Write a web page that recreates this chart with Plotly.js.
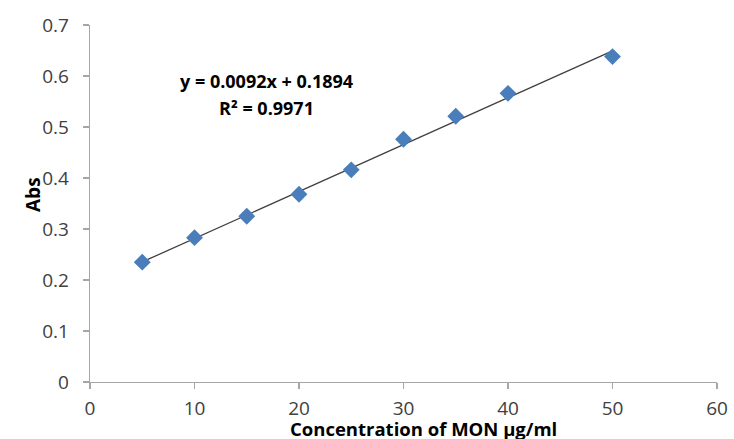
<!DOCTYPE html>
<html>
<head>
<meta charset="utf-8">
<script src="https://cdn.plot.ly/plotly-3.0.1.min.js"></script>
<style>html,body{margin:0;padding:0;background:#fff;}#chart{width:734px;height:439px;}</style>
</head>
<body>
<div id="chart"></div>
<script>
const concentration = [5, 10, 15, 20, 25, 30, 35, 40, 50];
const absorbance = [0.235, 0.283, 0.325, 0.368, 0.416, 0.476, 0.521, 0.566, 0.638];
const slope = 0.0092;
const intercept = 0.1894;
const equationText = "y = 0.0092x + 0.1894";
const r2Text = "R² = 0.9971";
const xTitle = "Concentration of MON µg/ml";
const yTitle = "Abs";
const xTicks = [0, 10, 20, 30, 40, 50, 60];
const yTicks = [0, 0.1, 0.2, 0.3, 0.4, 0.5, 0.6, 0.7];

const xFit = [concentration[0], concentration[concentration.length - 1]];
const yFit = xFit.map(x => slope * x + intercept);

const font = "Open Sans, Noto Sans, sans-serif";

const data = [
  {
    x: xFit, y: yFit, type: "scatter", mode: "lines",
    line: {color: "#404040", width: 1.3},
    hoverinfo: "skip", showlegend: false
  },
  {
    x: concentration, y: absorbance, type: "scatter", mode: "markers",
    marker: {symbol: "diamond", size: 13, color: "#4a7ebb", line: {width: 0}},
    showlegend: false
  }
];

const layout = {
  width: 734, height: 439,
  margin: {l: 90, r: 17, t: 25, b: 57},
  paper_bgcolor: "#ffffff", plot_bgcolor: "#ffffff",
  font: {family: font, color: "#404040"},
  xaxis: {
    range: [0, 60], tickvals: xTicks, ticktext: xTicks.map(String),
    showgrid: false, zeroline: false,
    showline: true, linecolor: "#a6a6a6", linewidth: 1.3,
    ticks: "outside", ticklen: 6, tickcolor: "#a6a6a6", tickwidth: 1.3,
    tickfont: {size: 19, color: "#404040"},
    ticklabelstandoff: 3
  },
  yaxis: {
    range: [0, 0.7], tickvals: yTicks, ticktext: yTicks.map(v => String(v)),
    showgrid: false, zeroline: false,
    showline: true, linecolor: "#a6a6a6", linewidth: 1.3,
    ticks: "outside", ticklen: 6, tickcolor: "#a6a6a6", tickwidth: 1.3,
    tickfont: {size: 19, color: "#404040"},
    ticklabelstandoff: 10
  },
  annotations: [
    {x: 16.9, y: 0.591, xref: "x", yref: "y", text: equationText, showarrow: false,
     xanchor: "center", yanchor: "middle",
     font: {size: 18, color: "#000", weight: "bold", family: font}},
    {x: 16.9, y: 0.537, xref: "x", yref: "y", text: r2Text, showarrow: false,
     xanchor: "center", yanchor: "middle",
     font: {size: 18, color: "#000", weight: "bold", family: font}},
    {x: 423, y: 428, xref: "paper", yref: "paper", text: xTitle, showarrow: false,
     xanchor: "center", yanchor: "middle",
     font: {size: 18.5, color: "#000", weight: "bold", family: font}},
    {x: 33, y: 195, xref: "paper", yref: "paper", text: yTitle, showarrow: false, textangle: -90,
     xanchor: "center", yanchor: "middle",
     font: {size: 19, color: "#000", weight: "bold", family: font}}
  ]
};

// convert paper-pixel positions of titles into paper fractions
const pw = layout.width - layout.margin.l - layout.margin.r;
const ph = layout.height - layout.margin.t - layout.margin.b;
layout.annotations.slice(2).forEach(a => {
  a.x = (a.x - layout.margin.l) / pw;
  a.y = (layout.height - layout.margin.b - a.y) / ph;
});

Plotly.newPlot("chart", data, layout, {displayModeBar: false, staticPlot: true});
</script>
</body>
</html>
